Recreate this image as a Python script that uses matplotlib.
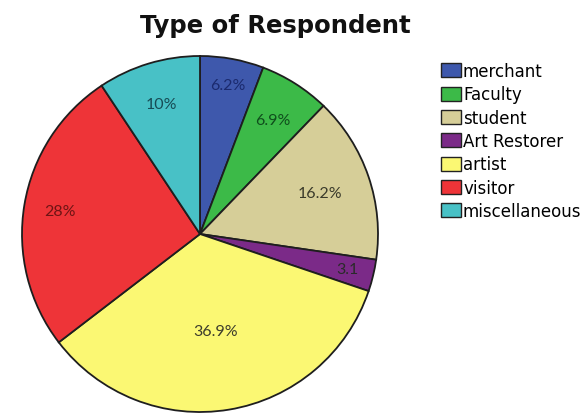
import numpy as np
import matplotlib
matplotlib.use("Agg")
import matplotlib.pyplot as plt
from matplotlib.patches import Patch

# Respondent categories and their shares (percent)
categories = ["merchant", "Faculty", "student", "Art Restorer", "artist", "visitor", "miscellaneous"]
values = [6.2, 6.9, 16.2, 3.1, 36.9, 28, 10]
labels = ["6.2%", "6.9%", "16.2%", "3.1", "36.9%", "28%", "10%"]

fill_colors = ["#3E58AC", "#3CBA48", "#D6CE98", "#7B2A88", "#FBF873", "#EE3438", "#48C1C6"]
text_colors = ["#1B2A6E", "#0F4E1C", "#3A3A2A", "#2A2A2A", "#3C3C2C", "#6E1414", "#174C55"]
label_radius = [0.85, 0.76, 0.71, 0.85, 0.55, 0.80, 0.76]

fig = plt.figure(figsize=(5.85, 4.14), dpi=100)
fig.patch.set_facecolor("white")

# Pie axes: centre ~(200, 235) px, radius ~178 px
r_px = 178
cx, cy = 200, 414 - 235
ax = fig.add_axes([(cx - r_px) / 585, (cy - r_px) / 414, 2 * r_px / 585, 2 * r_px / 414])

wedges, _ = ax.pie(values, colors=fill_colors, startangle=90, counterclock=False,
                   radius=1.0, wedgeprops=dict(edgecolor="#1E1E1E", linewidth=1.3))
ax.set_xlim(-1, 1)
ax.set_ylim(-1, 1)
ax.set_aspect("equal")
ax.axis("off")
for w in wedges:
    w.set_clip_on(False)

for w, lab, tc, rr in zip(wedges, labels, text_colors, label_radius):
    mid = np.deg2rad((w.theta1 + w.theta2) / 2)
    ax.text(rr * np.cos(mid), rr * np.sin(mid), lab, ha="center", va="center",
            fontsize=11.5, color=tc, family="Lato")

fig.text(0.47, 0.937, "Type of Respondent", ha="center", va="center",
         fontsize=17.5, fontweight="bold", family="DejaVu Sans", color="#111111")

handles = [Patch(facecolor=c, edgecolor="#222222", linewidth=1.0) for c in fill_colors]
fig.legend(handles, categories, loc="upper left", bbox_to_anchor=(441 / 585, 1 - 63 / 414),
           frameon=False, fontsize=12, handlelength=1.2, handleheight=0.9,
           handletextpad=0.12, labelspacing=0.32, borderaxespad=0, borderpad=0)

fig.savefig("out.png", dpi=100, facecolor="white")
